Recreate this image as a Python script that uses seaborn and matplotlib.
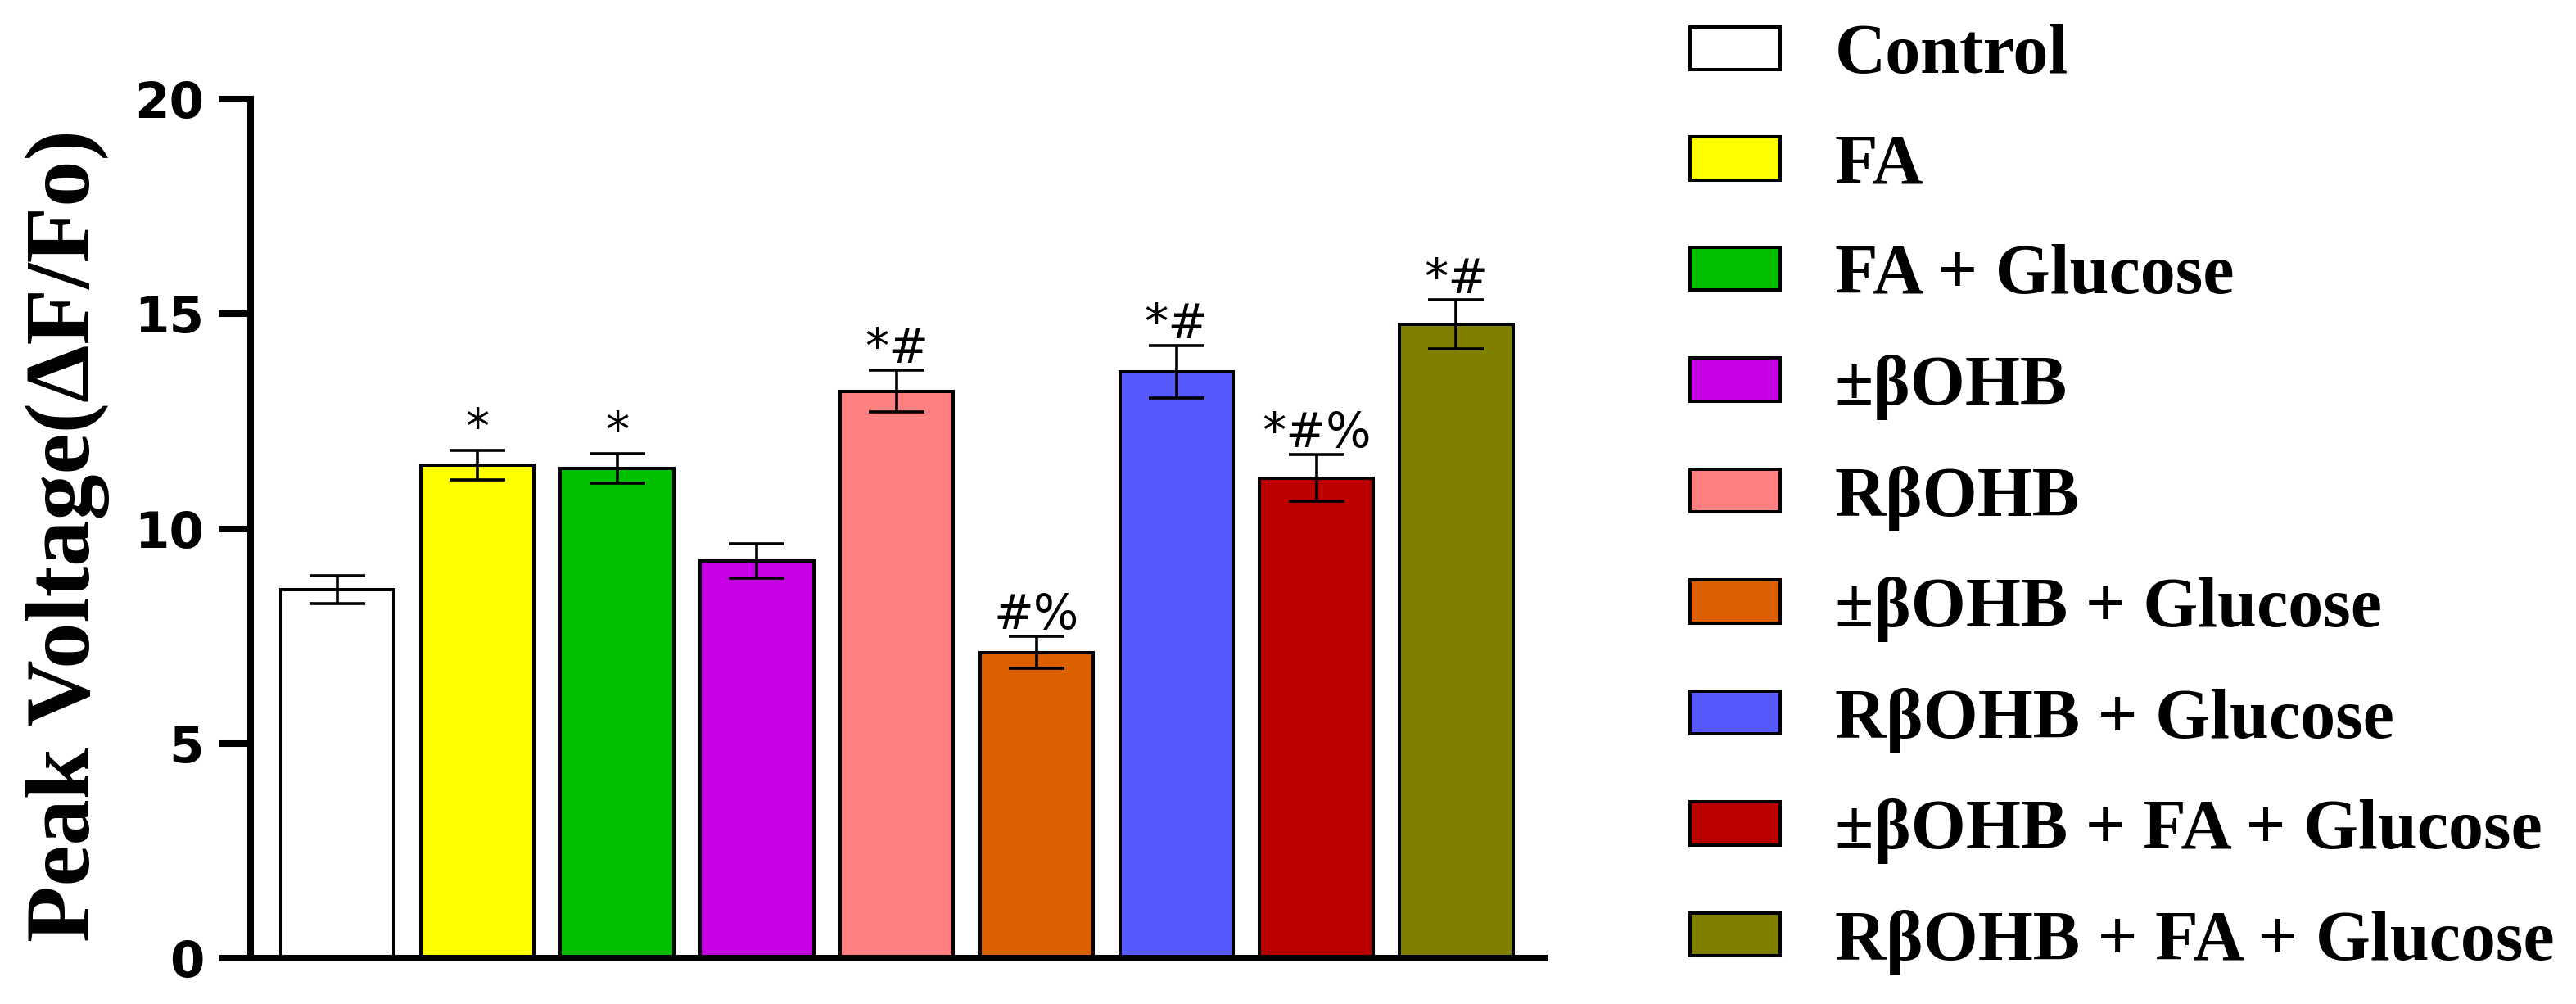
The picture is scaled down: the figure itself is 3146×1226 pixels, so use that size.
import matplotlib
matplotlib.use("Agg")
import matplotlib.pyplot as plt
import seaborn as sns
import pandas as pd
import numpy as np

groups = ["Control", "FA", "FA + Glucose", "\u00b1\u03b2OHB", "R\u03b2OHB",
          "\u00b1\u03b2OHB + Glucose", "R\u03b2OHB + Glucose",
          "\u00b1\u03b2OHB + FA + Glucose", "R\u03b2OHB + FA + Glucose"]
means = [8.58, 11.48, 11.40, 9.25, 13.20, 7.12, 13.66, 11.18, 14.75]
sems = [0.32, 0.35, 0.34, 0.40, 0.49, 0.38, 0.61, 0.55, 0.57]
marks = ["", "*", "*", "", "*#", "#%", "*#", "*#%", "*#"]
colors = ["#FFFFFF", "#FFFF00", "#00C000", "#C800E6", "#FF8080",
          "#DD6000", "#5858FF", "#BB0000", "#808000"]
yticks = [0, 5, 10, 15, 20]

sns.set_theme(style="white")
plt.rcParams['font.family'] = ['DejaVu Sans']
plt.rcParams['text.color'] = 'black'
plt.rcParams['axes.labelcolor'] = 'black'
plt.rcParams['xtick.color'] = 'black'
plt.rcParams['ytick.color'] = 'black'

DPI = 200
fig = plt.figure(figsize=(3146 / DPI, 1226 / DPI), dpi=DPI)
ax = fig.add_axes([306 / 3146, 56 / 1226, (1886 - 306) / 3146, (1170 - 121) / 1226])

df = pd.DataFrame({"group": groups, "mean": means, "sem": sems})
sns.barplot(data=df, x="group", y="mean", hue="group", palette=colors,
            order=groups, hue_order=groups, dodge=False, width=0.81,
            saturation=1, edgecolor="black", linewidth=1.45, errorbar=None,
            legend=True, ax=ax)

xpos = np.arange(len(groups))
ax.errorbar(xpos, means, yerr=sems, fmt="none", ecolor="black",
            elinewidth=1.3, capsize=12.4, capthick=1.3, zorder=5)

for x, m, s, t in zip(xpos, means, sems, marks):
    if t:
        ax.text(x, m + s + 0.17, t, ha="center", va="baseline",
                fontsize=21, family="DejaVu Sans", color="black")

ax.set_xlim(-0.62, 8.63)
ax.set_ylim(0, 20)
ax.set_yticks(yticks)
ax.set_yticklabels([str(v) for v in yticks], fontsize=22, fontweight="bold",
                   family="DejaVu Sans", color="black")
ax.set_xticks([])
ax.set_xlabel("")
ax.tick_params(axis="y", direction="out", length=14, width=2.9, pad=6.5,
               left=True, color="black")
for side in ["top", "right"]:
    ax.spines[side].set_visible(False)
for side in ["left", "bottom"]:
    ax.spines[side].set_linewidth(2.9)
    ax.spines[side].set_color("black")
ax.set_facecolor("white")

ax.set_ylabel("Peak Voltage(\u0394F/Fo)", fontsize=40.5, fontweight="bold",
              family="Liberation Serif", color="black")
ax.yaxis.set_label_coords(-0.109, 0.492)

handles, labels = ax.get_legend_handles_labels()
leg = ax.legend(handles, labels, loc="center left",
                bbox_to_anchor=(2064 / 3146, 1 - 610 / 1226),
                bbox_transform=fig.transFigure, frameon=False,
                prop={"family": "Liberation Serif", "weight": "bold", "size": 31},
                handlelength=1.28, handleheight=0.56, handletextpad=0.77,
                labelspacing=0.645, borderpad=0, borderaxespad=0)
for txt in leg.get_texts():
    txt.set_color("black")

fig.savefig("out.png", dpi=DPI, facecolor="white")
